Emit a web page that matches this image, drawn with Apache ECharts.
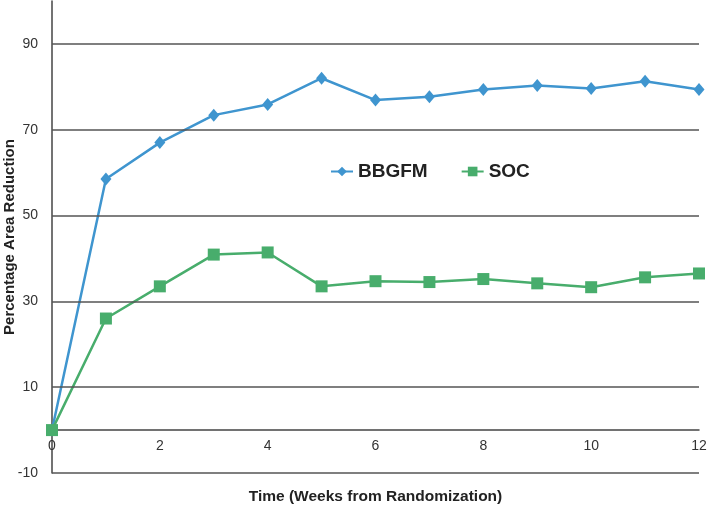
<!DOCTYPE html>
<html>
<head>
<meta charset="utf-8">
<script src="https://cdn.jsdelivr.net/npm/echarts@6/dist/echarts.min.js"></script>
<style>html,body{margin:0;padding:0;background:#fff}#c{width:709px;height:511px}</style>
</head>
<body>
<div id="c"></div>
<script>
var weeks = [0,1,2,3,4,5,6,7,8,9,10,11,12];
var bbgfm = [0,58.5,67.0,73.4,75.9,82.0,76.9,77.7,79.4,80.3,79.6,81.3,79.4];
var soc = [0,26.0,33.5,40.9,41.4,33.5,34.7,34.5,35.2,34.2,33.3,35.6,36.5];
var yLabels = [-10,10,30,50,70,90];
var xLabels = [0,2,4,6,8,10,12];

var chart = echarts.init(document.getElementById('c'));
function pairs(arr){ return weeks.map(function(w,i){ return [w, arr[i]]; }); }
var font = 'Liberation Sans, Arial';
chart.setOption({
  animation: false,
  backgroundColor: '#fff',
  grid: { left: 52, right: 10, top: 1, bottom: 38, containLabel: false, outerBoundsMode: 'none' },
  legend: {
    left: 325, top: 157, itemWidth: 22, itemHeight: 12, itemGap: 33,
    textStyle: { fontFamily: font, fontWeight: 'bold', fontSize: 19, color: '#222' },
    data: ['BBGFM','SOC']
  },
  xAxis: {
    type: 'value', min: 0, max: 12, interval: 2,
    axisLine: { onZero: true, lineStyle: { color: '#444', width: 1.5 } },
    axisTick: { show: false },
    splitLine: { show: false },
    axisLabel: { margin: -34, fontFamily: font, fontSize: 14, color: '#333',
      formatter: function(v){ return xLabels.indexOf(v) >= 0 ? String(v) : ''; } },
    name: 'Time (Weeks from Randomization)', nameLocation: 'middle', nameGap: 16, nameMoveOverlap: false,
    nameTextStyle: { fontFamily: font, fontWeight: 'bold', fontSize: 15.5, color: '#222' }
  },
  yAxis: {
    type: 'value', min: -10, max: 100, interval: 10,
    axisLine: { show: true, lineStyle: { color: '#444', width: 1.5 } },
    axisTick: { show: false },
    splitLine: { show: false },
    axisLabel: { margin: 14, fontFamily: font, fontSize: 14, color: '#333',
      formatter: function(v){ return yLabels.indexOf(v) >= 0 ? String(v) : ''; } },
    name: 'Percentage Area Reduction', nameLocation: 'middle', nameGap: 35, nameMoveOverlap: false,
    nameTextStyle: { fontFamily: font, fontWeight: 'bold', fontSize: 15, color: '#222' }
  },
  series: [
    { name: 'BBGFM', type: 'line', data: pairs(bbgfm), symbol: 'diamond', symbolSize: [11, 13],
      lineStyle: { color: '#3f95cf', width: 2.5 }, itemStyle: { color: '#3f95cf' }, z: 3,
      markLine: { silent: true, symbol: 'none', label: { show: false }, animation: false,
        lineStyle: { color: '#555', width: 1.5, type: 'solid' },
        data: yLabels.map(function(v){ return { yAxis: v }; }) } },
    { name: 'SOC', type: 'line', data: pairs(soc), symbol: 'rect', symbolSize: 12,
      lineStyle: { color: '#48ad6c', width: 2.5 }, itemStyle: { color: '#48ad6c' }, z: 4 }
  ]
});
</script>
</body>
</html>
